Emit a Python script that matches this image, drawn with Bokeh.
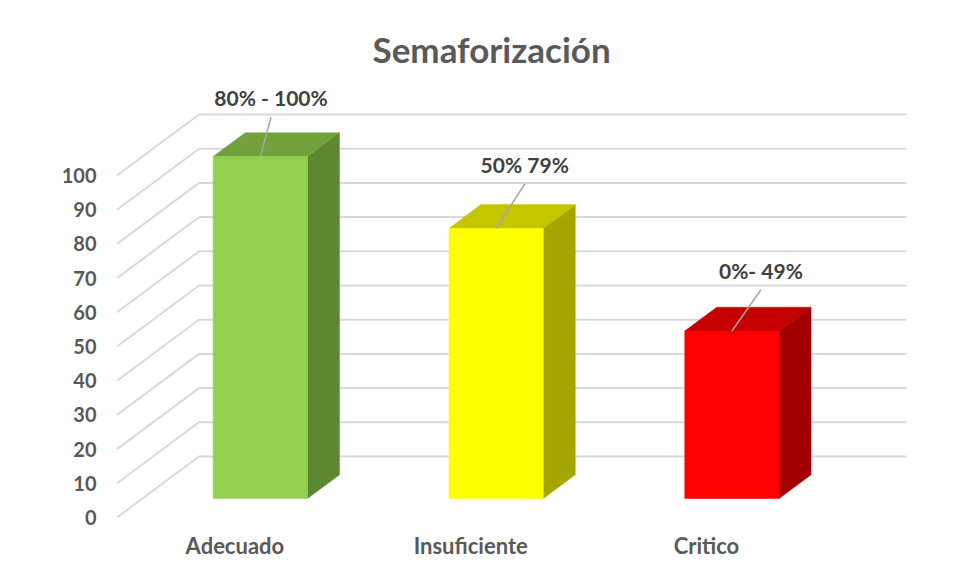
from bokeh.plotting import figure
from bokeh.models import Range1d, FixedTicker, ColumnDataSource
from bokeh.core.properties import value
from bokeh.embed import file_html
from bokeh.resources import INLINE

# ---------------- data ----------------
chart_title = "Semaforización"
categories = ["Adecuado", "Insuficiente", "Critico"]
values = [100, 79, 49]
range_labels = ["80% - 100%", "50% 79%", "0%- 49%"]
y_ticks = [0, 10, 20, 30, 40, 50, 60, 70, 80, 90, 100]

# ---------------- styles ----------------
front_colors = ["#92D050", "#FFFF00", "#FF0000"]
top_colors = ["#71A03C", "#C4C400", "#C40000"]
side_colors = ["#5E8732", "#A5A500", "#A20000"]
TEXT = "#595959"
DARK = "#404040"
GRID = "#D9D9D9"
FONT = "Lato"

# layout (pixels in the screenshot)
PAGE_OFF = 0
FIG_W, FIG_H = 940, 561
FRAME_L, FRAME_R, FRAME_T, FRAME_B = 106, 916, 76, 518
FRONT_X0, FRONT_Y0 = 116.5, 517.0
PX_X = 235.8
PX_Y = 3.42
DEPTH_PX = (82.0, 61.0)
DX = DEPTH_PX[0] / PX_X
DY = DEPTH_PX[1] / PX_Y
F0, F1 = 0.31, 0.70
W = 0.2
label_offsets_px = [(10.7, 39.3), (28.6, 44.4), (29.0, 41.3)]
LABEL_GAP_PX = 19.5

x0 = (FRAME_L - FRONT_X0) / PX_X
x1 = (FRAME_R - FRONT_X0) / PX_X
y1 = (FRONT_Y0 - FRAME_T) / PX_Y
y0 = (FRONT_Y0 - FRAME_B) / PX_Y

p = figure(width=FIG_W, height=FIG_H, output_backend="svg", toolbar_location=None,
           x_range=Range1d(x0, x1), y_range=Range1d(y0, y1),
           min_border_left=FRAME_L - PAGE_OFF, min_border_right=FIG_W - (FRAME_R - PAGE_OFF),
           min_border_top=FRAME_T - PAGE_OFF, min_border_bottom=FIG_H - (FRAME_B - PAGE_OFF))
p.background_fill_color = "white"
p.border_fill_color = "white"
p.outline_line_color = None
p.xgrid.visible = False
p.ygrid.visible = False

# title
p.title.text = chart_title
p.title.align = "left"
p.title.text_font = FONT
p.title.text_font_style = "bold"
p.title.text_font_size = "35px"
p.title.text_color = TEXT
p.title.standoff = 13
p.title.offset = 372 - FRAME_L

# axes
p.yaxis.ticker = FixedTicker(ticks=y_ticks)
p.yaxis.axis_line_color = None
p.yaxis.major_tick_line_color = None
p.yaxis.minor_tick_line_color = None
p.yaxis.major_tick_out = 0
p.yaxis.major_tick_in = 0
p.yaxis.major_label_standoff = 10
p.yaxis.major_label_text_font = FONT
p.yaxis.major_label_text_font_style = "bold"
p.yaxis.major_label_text_font_size = "20px"
p.yaxis.major_label_text_color = TEXT

cat_pos = [i + 0.5 for i in range(len(categories))]
p.xaxis.ticker = FixedTicker(ticks=cat_pos)
p.xaxis.major_label_overrides = {c: n for c, n in zip(cat_pos, categories)}
p.xaxis.axis_line_color = None
p.xaxis.major_tick_line_color = None
p.xaxis.minor_tick_line_color = None
p.xaxis.major_tick_out = 0
p.xaxis.major_tick_in = 0
p.xaxis.major_label_standoff = 13
p.xaxis.major_label_text_font = FONT
p.xaxis.major_label_text_font_style = "bold"
p.xaxis.major_label_text_font_size = "22px"
p.xaxis.major_label_text_color = TEXT

# gridlines: side wall diagonals + back wall horizontals
n = len(categories)
gx, gy = [], []
for t in y_ticks:
    gx.append([0, DX, n + DX])
    gy.append([t, t + DY, t + DY])
p.multi_line(gx, gy, line_color=GRID, line_width=2)

# bars
fx, fy, tx, ty, sx, sy = [], [], [], [], [], []
for i, v in enumerate(values):
    c = cat_pos[i]
    l0, r0 = c - W + F0 * DX, c + W + F0 * DX
    l1, r1 = c - W + F1 * DX, c + W + F1 * DX
    b0, b1 = F0 * DY, F1 * DY
    fx.append([l0, r0, r0, l0]); fy.append([b0, b0, v + b0, v + b0])
    tx.append([l0, r0, r1, l1]); ty.append([v + b0, v + b0, v + b1, v + b1])
    sx.append([r0, r1, r1, r0]); sy.append([b0, b1, v + b1, v + b0])

p.patches(sx, sy, fill_color=side_colors, line_color=side_colors, line_width=0.5)
p.patches(tx, ty, fill_color=top_colors, line_color=top_colors, line_width=0.5)
p.patches(fx, fy, fill_color=front_colors, line_color=front_colors, line_width=0.5)

# leader lines and data labels
lx, ly, tlx, tly = [], [], [], []
for i, v in enumerate(values):
    bx = cat_pos[i] + F0 * DX
    by = v + F0 * DY
    ox, oy = label_offsets_px[i]
    ex, ey = bx + ox / PX_X, by + oy / PX_Y
    lx.append([bx, ex]); ly.append([by, ey])
    tlx.append(ex); tly.append(ey + LABEL_GAP_PX / PX_Y)
p.multi_line(lx, ly, line_color="#A6A6A6", line_width=1.5)
src = ColumnDataSource(dict(x=tlx, y=tly, t=range_labels))
p.text(x="x", y="y", text="t", source=src, text_font=value(FONT),
       text_font_style="bold", text_font_size="21px", text_color=DARK,
       text_align="center", text_baseline="alphabetic")

open("out.html", "w").write(file_html(p, INLINE))
